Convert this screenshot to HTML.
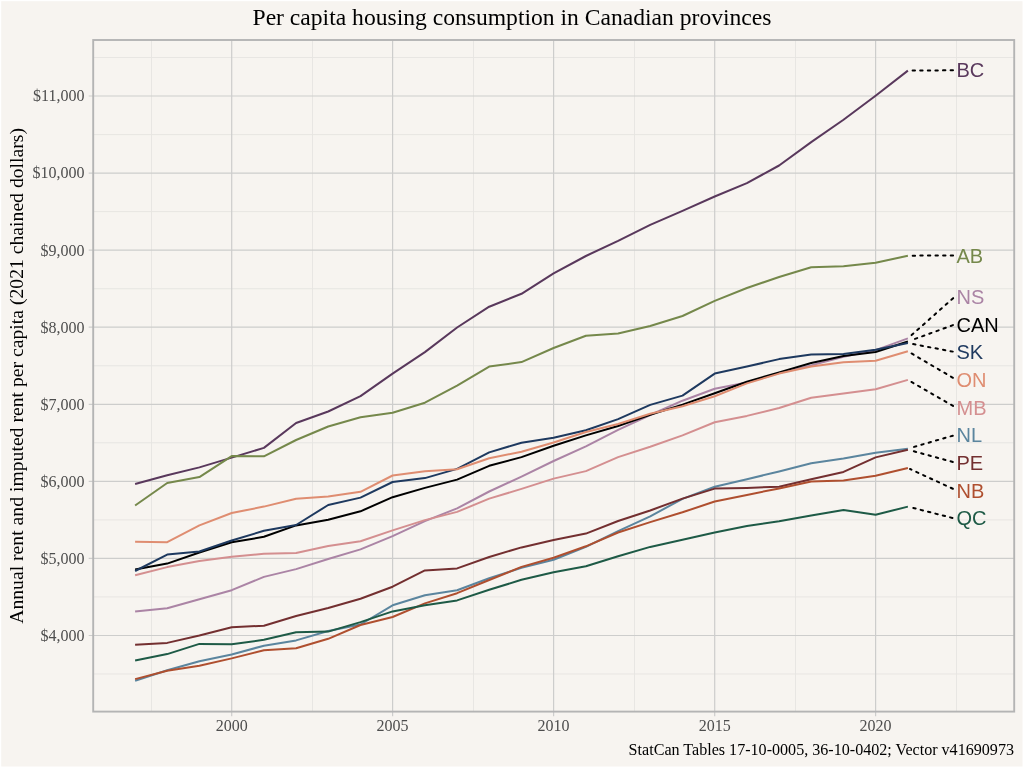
<!DOCTYPE html>
<html><head><meta charset="utf-8"><title>Per capita housing consumption</title>
<style>
html,body{margin:0;padding:0;background:#fff;}
#c{position:absolute;left:0;top:0;width:1024px;height:768px;will-change:transform;}
text{font-family:"Liberation Serif",serif;}
.lab{font-family:"Liberation Sans",sans-serif;font-size:20px;}
</style></head><body>
<svg id="c" width="1024" height="768" viewBox="0 0 1024 768">
<rect x="1.2" y="1.2" width="1021.3" height="765.3" fill="#F7F4F0"/>
<path d="M151.5 40.0V711.6M312.5 40.0V711.6M473.5 40.0V711.6M634.5 40.0V711.6M795.5 40.0V711.6M956.5 40.0V711.6M93.2 674.0H1014.2M93.2 596.9H1014.2M93.2 519.9H1014.2M93.2 442.8H1014.2M93.2 365.8H1014.2M93.2 288.7H1014.2M93.2 211.6H1014.2M93.2 134.6H1014.2M93.2 57.5H1014.2" stroke="#E7E5E2" stroke-width="0.95" fill="none"/>
<path d="M231.7 40.0V716.2M392.6 40.0V716.2M553.6 40.0V716.2M714.7 40.0V716.2M875.6 40.0V716.2M88.7 635.5H1014.2M88.7 558.4H1014.2M88.7 481.4H1014.2M88.7 404.3H1014.2M88.7 327.2H1014.2M88.7 250.2H1014.2M88.7 173.1H1014.2M88.7 96.0H1014.2" stroke="#CDCDCC" stroke-width="1.2" fill="none"/>
<rect x="93.2" y="40.0" width="921.0" height="671.6" fill="none" stroke="#B4B4B4" stroke-width="1.9"/>
<polyline points="135.1,484.0 167.2,475.2 199.4,467.4 231.7,457.6 263.9,447.9 296.1,423.0 328.2,411.5 360.5,396.1 392.6,373.6 424.9,352.1 457.1,327.5 489.2,306.7 521.5,293.8 553.6,273.4 585.9,256.0 618.1,240.9 650.2,224.8 682.5,210.8 714.7,196.5 746.9,183.1 779.1,165.5 811.2,142.1 843.5,119.8 875.6,95.7 907.9,70.6" fill="none" stroke="#59385c" stroke-width="2" stroke-linejoin="round"/>
<polyline points="135.1,505.5 167.2,483.0 199.4,477.1 231.7,456.1 263.9,456.3 296.1,440.0 328.2,426.5 360.5,417.3 392.6,412.7 424.9,402.7 457.1,385.7 489.2,366.6 521.5,362.1 553.6,348.0 585.9,335.7 618.1,333.5 650.2,326.0 682.5,316.0 714.7,300.9 746.9,288.0 779.1,277.0 811.2,267.2 843.5,266.2 875.6,262.7 907.9,255.7" fill="none" stroke="#75884b" stroke-width="2" stroke-linejoin="round"/>
<polyline points="135.1,611.6 167.2,608.3 199.4,599.3 231.7,590.2 263.9,576.9 296.1,569.1 328.2,559.0 360.5,549.4 392.6,536.1 424.9,521.1 457.1,508.4 489.2,491.5 521.5,476.6 553.6,461.0 585.9,446.4 618.1,429.9 650.2,415.0 682.5,400.7 714.7,388.8 746.9,382.5 779.1,373.1 811.2,365.4 843.5,356.7 875.6,350.1 907.9,338.4" fill="none" stroke="#ab84a5" stroke-width="2" stroke-linejoin="round"/>
<polyline points="135.1,569.6 167.2,563.6 199.4,552.5 231.7,542.3 263.9,536.8 296.1,525.4 328.2,519.7 360.5,511.3 392.6,497.2 424.9,487.9 457.1,479.6 489.2,465.8 521.5,457.1 553.6,445.7 585.9,435.4 618.1,426.0 650.2,414.8 682.5,404.6 714.7,393.3 746.9,381.8 779.1,372.4 811.2,363.0 843.5,356.0 875.6,352.0 907.9,341.5" fill="none" stroke="#000000" stroke-width="2" stroke-linejoin="round"/>
<polyline points="135.1,571.0 167.2,554.6 199.4,551.5 231.7,540.5 263.9,530.8 296.1,525.0 328.2,505.0 360.5,497.6 392.6,482.0 424.9,478.1 457.1,468.9 489.2,452.4 521.5,442.7 553.6,437.8 585.9,430.2 618.1,419.1 650.2,404.9 682.5,395.6 714.7,373.6 746.9,366.6 779.1,359.1 811.2,354.4 843.5,354.1 875.6,349.7 907.9,343.1" fill="none" stroke="#1e395f" stroke-width="2" stroke-linejoin="round"/>
<polyline points="135.1,541.8 167.2,542.2 199.4,525.4 231.7,513.0 263.9,506.6 296.1,498.7 328.2,496.6 360.5,491.8 392.6,475.5 424.9,471.3 457.1,469.3 489.2,458.2 521.5,451.7 553.6,442.5 585.9,432.0 618.1,424.0 650.2,413.8 682.5,406.3 714.7,396.3 746.9,383.4 779.1,373.6 811.2,366.6 843.5,362.3 875.6,360.7 907.9,351.3" fill="none" stroke="#df8d71" stroke-width="2" stroke-linejoin="round"/>
<polyline points="135.1,575.3 167.2,567.1 199.4,560.9 231.7,556.8 263.9,553.8 296.1,552.9 328.2,546.0 360.5,541.2 392.6,530.4 424.9,520.1 457.1,511.9 489.2,498.6 521.5,488.9 553.6,478.6 585.9,471.1 618.1,457.1 650.2,446.8 682.5,435.4 714.7,422.3 746.9,415.9 779.1,408.0 811.2,397.7 843.5,393.5 875.6,389.3 907.9,379.9" fill="none" stroke="#d48f90" stroke-width="2" stroke-linejoin="round"/>
<polyline points="135.1,680.8 167.2,670.3 199.4,661.3 231.7,654.5 263.9,645.7 296.1,640.4 328.2,631.0 360.5,624.5 392.6,605.3 424.9,595.2 457.1,590.3 489.2,578.3 521.5,567.8 553.6,559.8 585.9,546.9 618.1,531.2 650.2,516.3 682.5,498.9 714.7,486.7 746.9,479.2 779.1,471.5 811.2,463.3 843.5,458.6 875.6,452.7 907.9,448.7" fill="none" stroke="#5b859e" stroke-width="2" stroke-linejoin="round"/>
<polyline points="135.1,644.7 167.2,642.9 199.4,635.5 231.7,627.3 263.9,625.7 296.1,616.0 328.2,608.0 360.5,598.7 392.6,586.7 424.9,570.4 457.1,568.4 489.2,557.0 521.5,547.4 553.6,540.1 585.9,533.6 618.1,521.0 650.2,510.5 682.5,498.6 714.7,488.6 746.9,487.9 779.1,486.7 811.2,479.2 843.5,471.9 875.6,457.4 907.9,449.7" fill="none" stroke="#732f30" stroke-width="2" stroke-linejoin="round"/>
<polyline points="135.1,679.1 167.2,670.7 199.4,665.8 231.7,658.4 263.9,650.2 296.1,648.2 328.2,638.8 360.5,625.0 392.6,617.0 424.9,603.4 457.1,593.2 489.2,580.0 521.5,566.9 553.6,557.7 585.9,546.3 618.1,532.5 650.2,522.1 682.5,512.3 714.7,501.5 746.9,494.9 779.1,488.4 811.2,481.6 843.5,480.4 875.6,475.7 907.9,468.0" fill="none" stroke="#af4f2f" stroke-width="2" stroke-linejoin="round"/>
<polyline points="135.1,660.5 167.2,654.1 199.4,643.9 231.7,644.3 263.9,639.8 296.1,632.2 328.2,631.6 360.5,622.1 392.6,611.4 424.9,605.3 457.1,600.4 489.2,589.8 521.5,579.8 553.6,572.3 585.9,566.3 618.1,556.2 650.2,546.9 682.5,539.7 714.7,532.4 746.9,526.1 779.1,521.2 811.2,515.5 843.5,510.1 875.6,514.8 907.9,506.6" fill="none" stroke="#1e5a46" stroke-width="2" stroke-linejoin="round"/>
<line x1="953.00" y1="70.31" x2="910.25" y2="70.58" stroke="#000" stroke-width="2" stroke-linecap="round" stroke-dasharray="2.4 5.2"/>
<line x1="953.10" y1="255.41" x2="910.25" y2="255.68" stroke="#000" stroke-width="2" stroke-linecap="round" stroke-dasharray="2.4 5.2"/>
<line x1="953.15" y1="298.16" x2="909.64" y2="336.81" stroke="#000" stroke-width="2" stroke-linecap="round" stroke-dasharray="2.4 5.2"/>
<line x1="952.96" y1="325.14" x2="910.11" y2="340.68" stroke="#000" stroke-width="2" stroke-linecap="round" stroke-dasharray="2.4 5.2"/>
<line x1="952.82" y1="351.61" x2="910.21" y2="343.55" stroke="#000" stroke-width="2" stroke-linecap="round" stroke-dasharray="2.4 5.2"/>
<line x1="952.94" y1="377.79" x2="909.92" y2="352.52" stroke="#000" stroke-width="2" stroke-linecap="round" stroke-dasharray="2.4 5.2"/>
<line x1="953.03" y1="405.90" x2="909.93" y2="381.10" stroke="#000" stroke-width="2" stroke-linecap="round" stroke-dasharray="2.4 5.2"/>
<line x1="952.84" y1="435.68" x2="910.16" y2="448.03" stroke="#000" stroke-width="2" stroke-linecap="round" stroke-dasharray="2.4 5.2"/>
<line x1="952.84" y1="461.94" x2="910.17" y2="450.33" stroke="#000" stroke-width="2" stroke-linecap="round" stroke-dasharray="2.4 5.2"/>
<line x1="952.89" y1="488.78" x2="910.03" y2="469.01" stroke="#000" stroke-width="2" stroke-linecap="round" stroke-dasharray="2.4 5.2"/>
<line x1="952.43" y1="517.95" x2="910.18" y2="507.19" stroke="#000" stroke-width="2" stroke-linecap="round" stroke-dasharray="2.4 5.2"/>
<text class="lab" x="956.5" y="77.3" fill="#59385c">BC</text>
<text class="lab" x="956.5" y="262.5" fill="#75884b">AB</text>
<text class="lab" x="956.5" y="304.2" fill="#ab84a5">NS</text>
<text class="lab" x="956.5" y="331.8" fill="#000000">CAN</text>
<text class="lab" x="956.5" y="359.4" fill="#1e395f">SK</text>
<text class="lab" x="956.5" y="387.0" fill="#df8d71">ON</text>
<text class="lab" x="956.5" y="414.6" fill="#d48f90">MB</text>
<text class="lab" x="956.5" y="442.3" fill="#5b859e">NL</text>
<text class="lab" x="956.5" y="469.9" fill="#732f30">PE</text>
<text class="lab" x="956.5" y="497.5" fill="#af4f2f">NB</text>
<text class="lab" x="956.5" y="525.1" fill="#1e5a46">QC</text>
<text x="84.5" y="640.8" text-anchor="end" font-size="16" fill="#4D4D4D">$4,000</text>
<text x="84.5" y="563.7" text-anchor="end" font-size="16" fill="#4D4D4D">$5,000</text>
<text x="84.5" y="486.7" text-anchor="end" font-size="16" fill="#4D4D4D">$6,000</text>
<text x="84.5" y="409.6" text-anchor="end" font-size="16" fill="#4D4D4D">$7,000</text>
<text x="84.5" y="332.5" text-anchor="end" font-size="16" fill="#4D4D4D">$8,000</text>
<text x="84.5" y="255.5" text-anchor="end" font-size="16" fill="#4D4D4D">$9,000</text>
<text x="84.5" y="178.4" text-anchor="end" font-size="16" fill="#4D4D4D">$10,000</text>
<text x="84.5" y="101.3" text-anchor="end" font-size="16" fill="#4D4D4D">$11,000</text>
<text x="231.7" y="731" text-anchor="middle" font-size="16" fill="#4D4D4D">2000</text>
<text x="392.6" y="731" text-anchor="middle" font-size="16" fill="#4D4D4D">2005</text>
<text x="553.6" y="731" text-anchor="middle" font-size="16" fill="#4D4D4D">2010</text>
<text x="714.7" y="731" text-anchor="middle" font-size="16" fill="#4D4D4D">2015</text>
<text x="875.6" y="731" text-anchor="middle" font-size="16" fill="#4D4D4D">2020</text>
<text transform="translate(512,25.2) scale(1,1)" text-anchor="middle" font-size="23.6" fill="#000">Per capita housing consumption in Canadian provinces</text>
<text x="1014" y="754.5" text-anchor="end" font-size="16.1" fill="#000">StatCan Tables 17-10-0005, 36-10-0402; Vector v41690973</text>
<text transform="translate(23,375.9) rotate(-90)" text-anchor="middle" font-size="19.7" fill="#000">Annual rent and imputed rent per capita (2021 chained dollars)</text>
</svg></body></html>
